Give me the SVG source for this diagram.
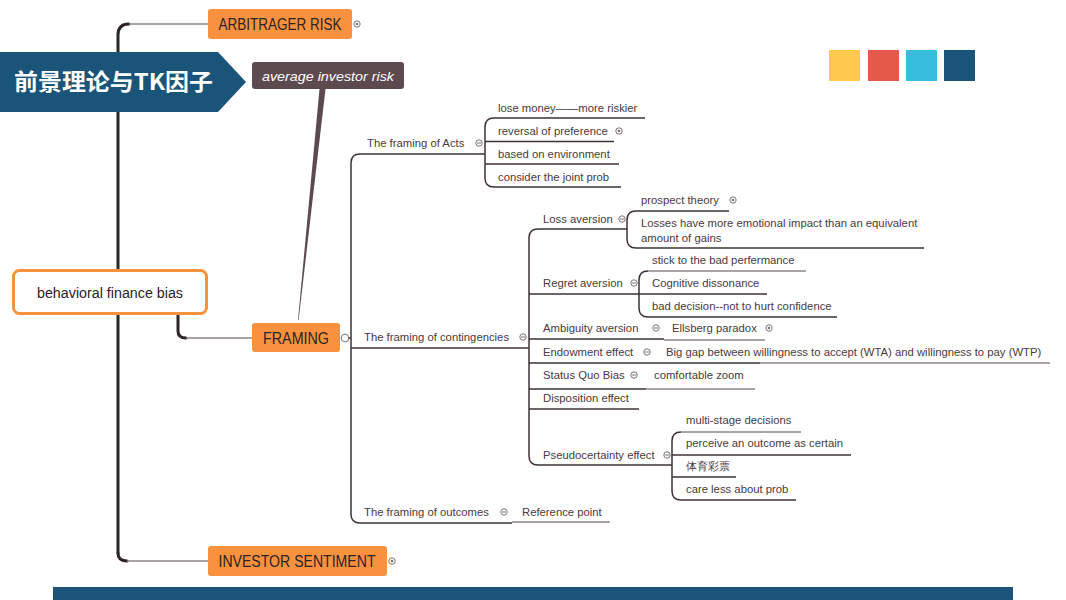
<svg xmlns="http://www.w3.org/2000/svg" width="1066" height="600" viewBox="0 0 1066 600">
<style>
.bg{fill:#ffffff}
.tk{fill:none;stroke:#2e2428;stroke-width:3;stroke-linecap:round}
.br{fill:none;stroke:#3d3236;stroke-width:1.5}
.lt{fill:none;stroke:#8e8689;stroke-width:1.3}
.t{font-family:"Liberation Sans",Arial,sans-serif;font-size:11.3px;fill:#4a3a40}
.big{font-family:"Liberation Sans",Arial,sans-serif;font-size:16px;fill:#2b2326;text-anchor:middle}
.ob{fill:#f9923f}
.mk{fill:#fff;stroke:#7a7276;stroke-width:1}
.mm{stroke:#7a7276;stroke-width:1}
.md{fill:#7a7276}
</style>
<rect class="bg" x="0" y="0" width="1066" height="600"/>

<!-- connectors -->
<g id="connectors">
  <!-- main trunk -->
  <path class="tk" d="M118,553 V35 Q118,24 129,24"/>
  <path class="lt" d="M129,24 H208"/>
  <path class="tk" d="M118,553 Q118,561 127,561"/>
  <path class="lt" d="M127,561 H208"/>
  <!-- behavioral -> FRAMING -->
  <path class="tk" d="M178,314 V331 Q178,338 186,338"/>
  <path class="lt" d="M186,338 H252"/>
  <!-- average investor risk tapered link -->
  <polygon points="319.5,89 325.5,89 298.6,320 298,320" fill="#5d4a4f"/>
  <!-- framing trunk -->
  <path class="br" d="M341,338 H351"/>
  <path class="br" d="M485,154 H360 Q351,154 351,163 V514 Q351,523 360,523 H512"/>
  <path class="br" d="M351,348 H529"/>
  <!-- acts children -->
  <path class="br" d="M645,118 H494 Q485,118 485,127 V178 Q485,187 494,187 H621"/>
  <path class="br" d="M485,141.5 H614"/>
  <path class="br" d="M485,164 H619"/>
  <!-- contingencies trunk -->
  <path class="br" d="M627,229 H538 Q529,229 529,238 V456 Q529,465 538,465 H672"/>
  <path class="br" d="M529,294 H639"/>
  <path class="br" d="M529,339 H664"/>
  <path class="br" d="M529,363 H760"/>
  <path class="lt" d="M760,363 H1050"/>
  <path class="br" d="M529,389 H646"/>
  <path class="br" d="M529,409 H639"/>
  <!-- loss aversion children -->
  <path class="br" d="M729,211 H636 Q627,211 627,220 V239 Q627,248 636,248 H924"/>
  <!-- regret children -->
  <path class="lt" d="M806,271 H648"/>
  <path class="br" d="M648,271 Q639,271 639,280 V308 Q639,317 648,317 H837"/>
  <path class="br" d="M639,294 H767"/>
  <!-- ambiguity / status -->
  <path class="lt" d="M664,340 H765"/>
  <path class="lt" d="M646,389 H755"/>
  <!-- pseudocertainty children -->
  <path class="lt" d="M801,432 H681"/>
  <path class="br" d="M681,432 Q672,432 672,441 V491 Q672,500 681,500 H796"/>
  <path class="br" d="M672,455 H851"/>
  <path class="br" d="M672,477 H736"/>
  <!-- outcomes -->
  <path class="lt" d="M512,522 H610"/>
</g>

<!-- header banner -->
<g id="banner">
  <polygon points="0,52 218,52 246,82 218,112 0,112" fill="#1b5479"/>
  <text x="14" y="90" font-family="'Noto Sans CJK SC','Noto Sans',sans-serif" font-size="23" font-weight="bold" fill="#ffffff" textLength="199" lengthAdjust="spacingAndGlyphs">前景理论与TK因子</text>
</g>

<g id="swatches">
  <rect x="829" y="50" width="31" height="31" fill="#fec94c"/>
  <rect x="868" y="50" width="31" height="31" fill="#e45a4a"/>
  <rect x="906" y="50" width="31" height="31" fill="#38bddf"/>
  <rect x="944" y="50" width="31" height="31" fill="#1b5479"/>
</g>
<rect id="footer-bar" x="53" y="587" width="960" height="13" fill="#1b5479"/>

<!-- nodes -->
<g id="node-root">
  <rect x="13.5" y="270.5" width="193" height="43" rx="6" fill="#ffffff" stroke="#f9923f" stroke-width="3"/>
  <text x="110" y="298" font-family="'Liberation Sans',Arial,sans-serif" font-size="14" fill="#2b2326" text-anchor="middle" textLength="146" lengthAdjust="spacingAndGlyphs">behavioral finance bias</text>
</g>
<g id="node-arbitrager">
  <rect class="ob" x="208" y="9" width="144" height="30" rx="3"/>
  <text class="big" x="280" y="30" textLength="123" lengthAdjust="spacingAndGlyphs">ARBITRAGER RISK</text>
  <circle class="mk" cx="357" cy="24" r="3.2"/><circle class="md" cx="357" cy="24" r="1.3"/>
</g>
<g id="node-avg">
  <rect x="252" y="62" width="152" height="27" rx="3" fill="#5d4a4f"/>
  <text x="328" y="80.5" font-family="'Liberation Sans',Arial,sans-serif" font-size="13" font-style="italic" fill="#ffffff" text-anchor="middle" textLength="132" lengthAdjust="spacingAndGlyphs">average investor risk</text>
</g>
<g id="node-framing">
  <rect class="ob" x="252" y="323" width="88" height="29" rx="3"/>
  <text class="big" x="296" y="344" textLength="66" lengthAdjust="spacingAndGlyphs">FRAMING</text>
  <circle class="mk" cx="345" cy="338" r="3.8"/>
</g>
<g id="node-investor">
  <rect class="ob" x="208" y="546" width="179" height="30" rx="3"/>
  <text class="big" x="297" y="567" textLength="157" lengthAdjust="spacingAndGlyphs">INVESTOR SENTIMENT</text>
  <circle class="mk" cx="392" cy="561" r="3.2"/><circle class="md" cx="392" cy="561" r="1.3"/>
</g>

<g id="node-acts">
  <text class="t" x="367" y="147">The framing of Acts</text>
  <circle class="mk" cx="479" cy="143" r="3.2"/><line class="mm" x1="477" y1="143" x2="481" y2="143"/>
</g>
<g id="node-acts-1"><text class="t" x="498" y="112">lose money——more riskier</text></g>
<g id="node-acts-2">
  <text class="t" x="498" y="135">reversal of preference</text>
  <circle class="mk" cx="619" cy="131" r="3.2"/><circle class="md" cx="619" cy="131" r="1.3"/>
</g>
<g id="node-acts-3"><text class="t" x="498" y="158">based on environment</text></g>
<g id="node-acts-4"><text class="t" x="498" y="181">consider the joint prob</text></g>

<g id="node-cont">
  <text class="t" x="364" y="341">The framing of contingencies</text>
  <circle class="mk" cx="523" cy="337" r="3.2"/><line class="mm" x1="521" y1="337" x2="525" y2="337"/>
</g>
<g id="node-loss">
  <text class="t" x="543" y="223">Loss aversion</text>
  <circle class="mk" cx="622" cy="219" r="3.2"/><line class="mm" x1="620" y1="219" x2="624" y2="219"/>
</g>
<g id="node-prospect">
  <text class="t" x="641" y="204">prospect theory</text>
  <circle class="mk" cx="733" cy="200" r="3.2"/><circle class="md" cx="733" cy="200" r="1.3"/>
</g>
<g id="node-losses">
  <text class="t" x="641" y="227">Losses have more emotional impact than an equivalent</text>
  <text class="t" x="641" y="242">amount of gains</text>
</g>
<g id="node-regret">
  <text class="t" x="543" y="287">Regret aversion</text>
  <circle class="mk" cx="634" cy="283" r="3.2"/><line class="mm" x1="632" y1="283" x2="636" y2="283"/>
</g>
<g id="node-stick"><text class="t" x="652" y="264">stick to the bad perfermance</text></g>
<g id="node-cognitive"><text class="t" x="652" y="287">Cognitive dissonance</text></g>
<g id="node-baddec"><text class="t" x="652" y="310">bad decision--not to hurt confidence</text></g>
<g id="node-ambiguity">
  <text class="t" x="543" y="332">Ambiguity aversion</text>
  <circle class="mk" cx="656" cy="328" r="3.2"/><line class="mm" x1="654" y1="328" x2="658" y2="328"/>
</g>
<g id="node-ellsberg">
  <text class="t" x="672" y="332">Ellsberg paradox</text>
  <circle class="mk" cx="769" cy="328" r="3.2"/><circle class="md" cx="769" cy="328" r="1.3"/>
</g>
<g id="node-endowment">
  <text class="t" x="543" y="356">Endowment effect</text>
  <circle class="mk" cx="647" cy="352" r="3.2"/><line class="mm" x1="645" y1="352" x2="649" y2="352"/>
</g>
<g id="node-biggap"><text class="t" x="666" y="356">Big gap between willingness to accept (WTA) and willingness to pay (WTP)</text></g>
<g id="node-status">
  <text class="t" x="543" y="379">Status Quo Bias</text>
  <circle class="mk" cx="634" cy="375" r="3.2"/><line class="mm" x1="632" y1="375" x2="636" y2="375"/>
</g>
<g id="node-comfort"><text class="t" x="654" y="379">comfortable zoom</text></g>
<g id="node-disposition"><text class="t" x="543" y="402">Disposition effect</text></g>
<g id="node-pseudo">
  <text class="t" x="543" y="459">Pseudocertainty effect</text>
  <circle class="mk" cx="667" cy="455" r="3.2"/><line class="mm" x1="665" y1="455" x2="669" y2="455"/>
</g>
<g id="node-multi"><text class="t" x="686" y="424">multi-stage decisions</text></g>
<g id="node-perceive"><text class="t" x="686" y="447">perceive an outcome as certain</text></g>
<g id="node-lottery"><text class="t" x="686" y="470" font-family="'Liberation Sans','Noto Sans CJK SC',sans-serif">体育彩票</text></g>
<g id="node-careless"><text class="t" x="686" y="493">care less about prob</text></g>
<g id="node-outcomes">
  <text class="t" x="364" y="516">The framing of outcomes</text>
  <circle class="mk" cx="504" cy="512" r="3.2"/><line class="mm" x1="502" y1="512" x2="506" y2="512"/>
</g>
<g id="node-reference"><text class="t" x="522" y="516">Reference point</text></g>
</svg>
